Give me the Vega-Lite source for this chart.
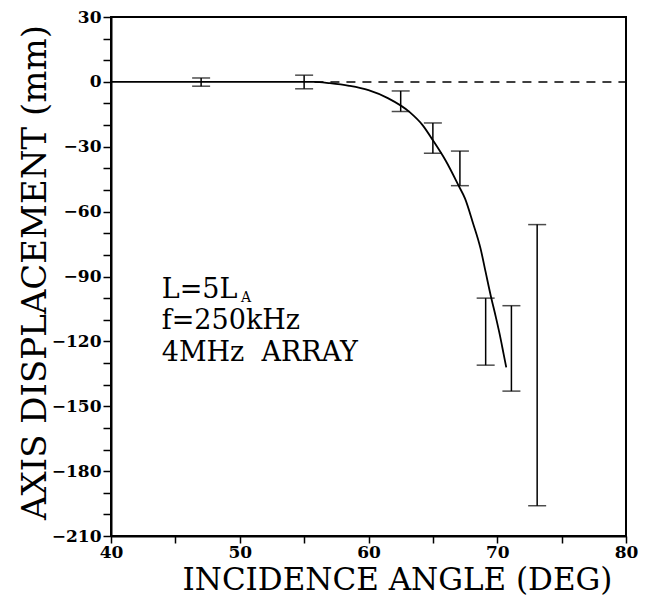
{
  "$schema": "https://vega.github.io/schema/vega-lite/v6.json",
  "width": 515,
  "height": 519,
  "autosize": {"type": "none"},
  "padding": {"left": 111, "top": 17, "right": 24, "bottom": 62},
  "background": "white",
  "config": {
    "view": {"stroke": "black", "strokeWidth": 2},
    "axis": {
      "grid": false,
      "domainColor": "black",
      "domainWidth": 2,
      "tickColor": "black",
      "tickWidth": 1.5,
      "labelColor": "black",
      "titleColor": "black",
      "labelFont": "DejaVu Serif",
      "titleFont": "DejaVu Serif",
      "titleFontWeight": "normal",
      "labelFontSize": 17,
      "labelFontWeight": "bold",
      "labelOverlap": false,
      "labelFlush": false
    }
  },
  "datasets": {
    "curve": [
      {"angle": 40, "disp": 0},
      {"angle": 55.8, "disp": 0},
      {"angle": 57, "disp": -0.6},
      {"angle": 58.5, "disp": -1.8},
      {"angle": 60, "disp": -3.8},
      {"angle": 61.5, "disp": -7.5},
      {"angle": 63.2, "disp": -14},
      {"angle": 64.2, "disp": -20},
      {"angle": 65, "disp": -27},
      {"angle": 66, "disp": -36.5},
      {"angle": 67, "disp": -48},
      {"angle": 67.5, "disp": -54},
      {"angle": 68.1, "disp": -65},
      {"angle": 68.7, "disp": -77},
      {"angle": 69.1, "disp": -88},
      {"angle": 69.5, "disp": -99},
      {"angle": 69.9, "disp": -109},
      {"angle": 70.2, "disp": -117},
      {"angle": 70.5, "disp": -126},
      {"angle": 70.7, "disp": -132}
    ],
    "dash": [
      {"angle": 55.8, "disp": 0},
      {"angle": 80, "disp": 0}
    ],
    "bars": [
      {"angle": 47, "disp": -2, "disp2": 1.8},
      {"angle": 55, "disp": -3.2, "disp2": 3.1},
      {"angle": 62.5, "disp": -13.7, "disp2": -4.2},
      {"angle": 65, "disp": -33, "disp2": -19},
      {"angle": 67.1, "disp": -48, "disp2": -32},
      {"angle": 69.1, "disp": -131, "disp2": -100},
      {"angle": 71.1, "disp": -143, "disp2": -103.5},
      {"angle": 73.1, "disp": -196, "disp2": -66}
    ],
    "notes": [
      {"angle": 43.94, "disp": -99.9, "txt": "L=5L"},
      {"angle": 43.94, "disp": -114.5, "txt": "f=250kHz"},
      {"angle": 43.94, "disp": -129.0, "txt": "4MHz\u00a0 ARRAY"}
    ],
    "subs": [
      {"angle": 50.1, "disp": -101.7, "txt": "A"}
    ]
  },
  "encoding": {
    "x": {
      "field": "angle",
      "type": "quantitative",
      "scale": {"domain": [40, 80], "nice": false, "zero": false},
      "axis": {
        "title": "INCIDENCE ANGLE (DEG)",
        "titleFontSize": 31,
        "values": [40, 45, 50, 55, 60, 65, 70, 75, 80],
        "labelExpr": "datum.value % 10 == 0 ? datum.label : ''",
        "tickSize": 7,
        "labelPadding": 1,
        "titleX": 286,
        "titleY": 53,
        "titleBaseline": "alphabetic",
        "titleAlign": "center"
      }
    },
    "y": {
      "field": "disp",
      "type": "quantitative",
      "scale": {"domain": [-210, 30], "nice": false, "zero": false},
      "axis": {
        "title": "AXIS DISPLACEMENT (mm)",
        "titleFontSize": 34,
        "values": [-210, -200, -190, -180, -170, -160, -150, -140, -130, -120, -110, -100, -90, -80, -70, -60, -50, -40, -30, -20, -10, 0, 10, 20, 30],
        "labelExpr": "datum.value % 30 == 0 ? datum.label : ''",
        "tickSize": 8,
        "labelPadding": 2,
        "titleX": -76,
        "titleY": 255,
        "titleAngle": -90,
        "titleAlign": "center",
        "titleBaseline": "middle"
      }
    }
  },
  "layer": [
    {
      "data": {"name": "curve"},
      "mark": {"type": "line", "color": "black", "strokeWidth": 1.8, "interpolate": "monotone"}
    },
    {
      "data": {"name": "dash"},
      "mark": {"type": "line", "color": "black", "strokeWidth": 1.5, "strokeDash": [9, 7]}
    },
    {
      "data": {"name": "bars"},
      "mark": {"type": "errorbar", "color": "black", "thickness": 1.5, "ticks": {"size": 18}},
      "encoding": {"y2": {"field": "disp2"}}
    },
    {
      "data": {"name": "notes"},
      "mark": {"type": "text", "font": "DejaVu Serif", "fontSize": 27, "align": "left", "baseline": "alphabetic", "color": "black"},
      "encoding": {"text": {"field": "txt"}}
    },
    {
      "data": {"name": "subs"},
      "mark": {"type": "text", "font": "DejaVu Serif", "fontSize": 14, "align": "left", "baseline": "alphabetic", "color": "black"},
      "encoding": {"text": {"field": "txt"}}
    }
  ]
}
